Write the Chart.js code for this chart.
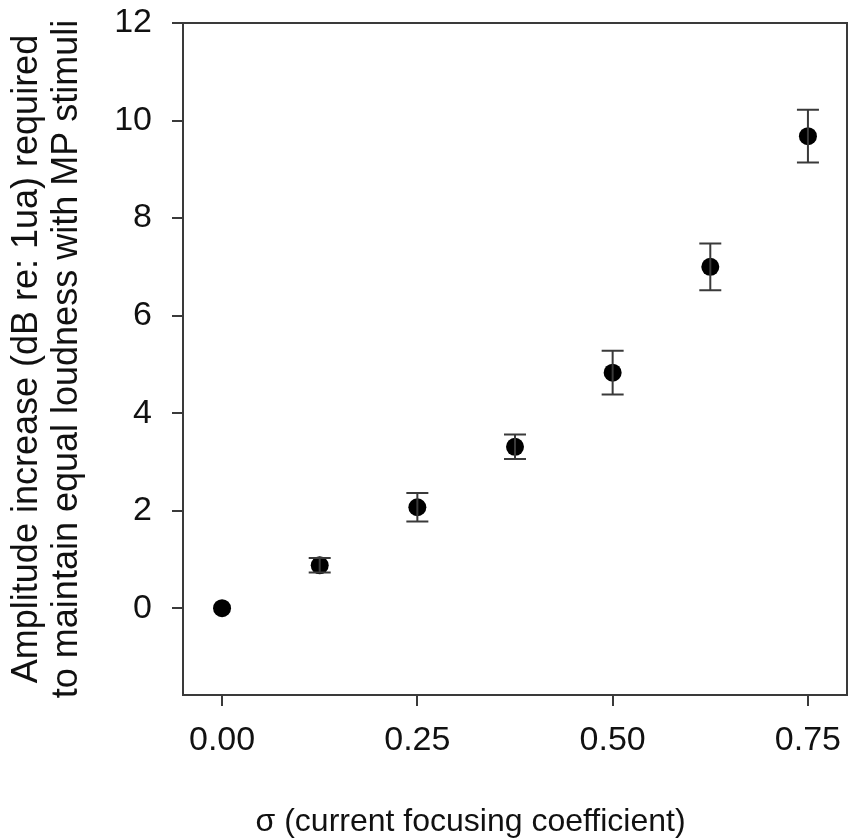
<!DOCTYPE html>
<html>
<head>
<meta charset="utf-8">
<script src="https://cdn.jsdelivr.net/npm/chart.js@4"></script>
<style>
  html, body { margin: 0; padding: 0; background: #fff; }
  #wrap { width: 856px; height: 838px; }
</style>
</head>
<body>
<div id="wrap"><canvas id="chart"></canvas></div>
<script>
// values
const sigma = [0, 0.125, 0.25, 0.375, 0.5, 0.625, 0.75];
const ampIncrease = [0, 0.88, 2.07, 3.31, 4.83, 7.0, 9.68];
const ampError = [0, 0.15, 0.29, 0.25, 0.45, 0.48, 0.54];
const xTicks = [0, 0.25, 0.5, 0.75];
const yTicks = [0, 2, 4, 6, 8, 10, 12];

// trailing no-break spaces nudge the centred title left, as in the original
const xTitle = 'σ (current focusing coefficient)' + '\u00A0'.repeat(10);
const yTitle = ['Amplitude increase (dB re: 1ua) required', 'to maintain equal loudness with MP stimuli'];

const FONT = '"Liberation Sans", Arial, sans-serif';
const AXIS_COLOR = '#3a3a3a';

// error bars drawn through the chart's own scales
const errorBars = {
    id: 'errorBars',
    afterDatasetsDraw(chart) {
        const { ctx, scales: { x, y } } = chart;
        ctx.save();
        ctx.strokeStyle = AXIS_COLOR;
        ctx.lineWidth = 2;
        for (let i = 0; i < sigma.length; i++) {
            if (!ampError[i]) continue;
            const px = x.getPixelForValue(sigma[i]);
            const top = y.getPixelForValue(ampIncrease[i] + ampError[i]);
            const bot = y.getPixelForValue(ampIncrease[i] - ampError[i]);
            const cap = 11;
            ctx.beginPath();
            ctx.moveTo(px, top); ctx.lineTo(px, bot);
            ctx.moveTo(px - cap, top); ctx.lineTo(px + cap, top);
            ctx.moveTo(px - cap, bot); ctx.lineTo(px + cap, bot);
            ctx.stroke();
        }
        ctx.restore();
    }
};

// closed frame around the plot area
const frame = {
    id: 'frame',
    beforeDatasetsDraw(chart) {
        const { ctx, chartArea: a } = chart;
        ctx.save();
        ctx.strokeStyle = AXIS_COLOR;
        ctx.lineWidth = 2;
        ctx.strokeRect(a.left, a.top, a.right - a.left, a.bottom - a.top);
        ctx.restore();
    }
};

new Chart(document.getElementById('chart'), {
    type: 'scatter',
    data: {
        datasets: [{
            data: sigma.map((s, i) => ({ x: s, y: ampIncrease[i] })),
            pointRadius: 9,
            pointHoverRadius: 9,
            pointBackgroundColor: '#000',
            pointBorderColor: '#000',
            pointBorderWidth: 0
        }]
    },
    options: {
        responsive: true,
        maintainAspectRatio: false,
        animation: false,
        layout: { padding: { top: 23, right: 3, bottom: 0, left: 0 } },
        plugins: {
            legend: { display: false },
            tooltip: { enabled: false }
        },
        scales: {
            x: {
                type: 'linear',
                min: -0.05,
                max: 0.80,
                afterBuildTicks: s => { s.ticks = xTicks.map(v => ({ value: v })); },
                afterFit: s => { s.height = 143; s.paddingLeft = 0; s.paddingRight = 0; },
                grid: { drawOnChartArea: false, drawTicks: true, tickLength: 11, color: AXIS_COLOR, lineWidth: 2 },
                border: { display: true, color: AXIS_COLOR, width: 2 },
                ticks: {
                    color: '#111',
                    font: { family: FONT, size: 34 },
                    padding: 14,
                    callback: v => Number(v).toFixed(2)
                },
                title: {
                    display: true,
                    text: xTitle,
                    color: '#111',
                    font: { family: FONT, size: 32, lineHeight: 1.0 },
                    padding: { top: 0, bottom: 0 }
                }
            },
            y: {
                type: 'linear',
                min: -1.78,
                max: 12,
                afterBuildTicks: s => { s.ticks = yTicks.map(v => ({ value: v })); },
                afterFit: s => { s.width = 183; s.paddingTop = 0; s.paddingBottom = 0; },
                grid: { drawOnChartArea: false, drawTicks: true, tickLength: 11, color: AXIS_COLOR, lineWidth: 2 },
                border: { display: true, color: AXIS_COLOR, width: 2 },
                ticks: {
                    color: '#111',
                    font: { family: FONT, size: 34 },
                    padding: 20
                },
                title: {
                    display: true,
                    text: yTitle,
                    color: '#111',
                    font: { family: FONT, size: 36, lineHeight: 1.12 },
                    padding: { top: 7, bottom: 0 }
                }
            }
        }
    },
    plugins: [frame, errorBars]
});
</script>
</body>
</html>
